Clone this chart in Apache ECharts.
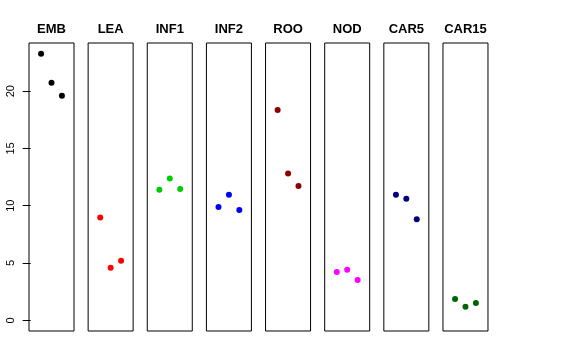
<!DOCTYPE html>
<html><head><meta charset="utf-8">
<script src="https://cdn.jsdelivr.net/npm/echarts@6/dist/echarts.min.js"></script>
<style>html,body{margin:0;padding:0;background:#fff}#c{width:576px;height:360px}</style>
</head><body><div id="c"></div>
<script>
var panels = ['EMB','LEA','INF1','INF2','ROO','NOD','CAR5','CAR15'];
var xPos = [1, 2, 3];
var EMB = [23.27, 20.74, 19.6];
var LEA = [8.98, 4.59, 5.2];
var INF1 = [11.39, 12.38, 11.45];
var INF2 = [9.88, 10.95, 9.62];
var ROO = [18.35, 12.81, 11.73];
var NOD = [4.22, 4.42, 3.52];
var CAR5 = [10.95, 10.6, 8.83];
var CAR15 = [1.86, 1.19, 1.52];
var yTicks = [0, 5, 10, 15, 20];

(function(){
var values = [EMB, LEA, INF1, INF2, ROO, NOD, CAR5, CAR15];
var colors = ['#000000','#FF0000','#00CD00','#0000FF','#8B0000','#FF00FF','#000080','#006400'];

var allVals = [].concat.apply([], values);
var yLo = 0, yHi = Math.max.apply(null, allVals);
var pad = 0.04 * (yHi - yLo);
var yMin = yLo - pad, yMax = yHi + pad;
var xMin = 0 - 0.16, xMax = 4 + 0.16;

var grids = [], xAxes = [], yAxes = [], series = [], titles = [];
var left0 = 29, step = 59.14, pw = 45, gTop = 43, gH = 288;
panels.forEach(function(name, i){
  var L = left0 + i * step;
  grids.push({left: L, top: gTop, width: pw, height: gH, show: true, borderColor: '#000', borderWidth: 1, backgroundColor: 'transparent'});
  xAxes.push({type: 'value', gridIndex: i, min: xMin, max: xMax, show: false});
  yAxes.push({type: 'value', gridIndex: i, min: yMin, max: yMax, show: i === 0,
    splitLine: {show: false},
    axisLine: {show: false},
    axisTick: {show: true, length: 8, lineStyle: {color: '#000'}, customValues: yTicks},
    axisLabel: {show: true, rotate: 90, margin: 13, color: '#000', fontSize: 11, fontFamily: 'Liberation Sans', customValues: yTicks}
  });
  series.push({type: 'scatter', xAxisIndex: i, yAxisIndex: i, symbol: 'circle', symbolSize: 6,
    itemStyle: {color: colors[i], opacity: 1}, silent: true, animation: false,
    data: xPos.map(function(x, j){ return [x, values[i][j]]; })});
  titles.push({text: name, left: L + pw / 2, top: 23, textAlign: 'center', padding: 0,
    textStyle: {fontSize: 13, fontWeight: 'bold', color: '#000', fontFamily: 'Liberation Sans'}});
});

var chart = echarts.init(document.getElementById('c'), null, {renderer: 'canvas'});
chart.setOption({animation: false, title: titles, grid: grids, xAxis: xAxes, yAxis: yAxes, series: series});
})();
</script></body></html>
